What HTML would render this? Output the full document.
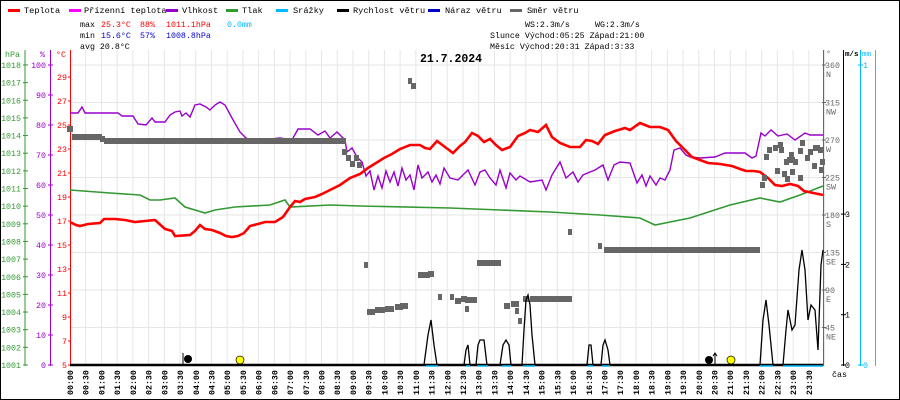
<!DOCTYPE html>
<html><head><meta charset="utf-8"><style>
html,body{margin:0;padding:0;background:#fff}
svg{display:block}
text{font-family:"Liberation Mono",monospace;font-size:8.3px}
</style></head><body>
<svg id="s" width="900" height="400" xmlns="http://www.w3.org/2000/svg">
<rect x="0.5" y="0.5" width="899" height="399" fill="#fff" stroke="#000"/>
</svg>
<script>
const s=document.getElementById('s');let h='';
const X0=70,DX=15.72;
for(let i=1;i<=48;i++){const x=X0+i*DX;h+=`<line x1="${x}" y1="50" x2="${x}" y2="365" stroke="#e6e6e6"/>`;}
for(let k=1;k<=8;k++){const y=365-37.5*k;h+=`<line x1="70" y1="${y}" x2="823" y2="${y}" stroke="#e6e6e6"/>`;}
function t(x,y,str,c,a,fs,w){h+=`<text x="${x}" y="${y}" fill="${c||'#000'}" ${a?'text-anchor="'+a+'"':''} ${fs?'style="font-size:'+fs+'px"':''} ${w?'font-weight="bold"':''}>${str}</text>`;}
const L=[["Teplota","#f00",8,24],["Přízenní teplota","#f0f",69,84],["Vlhkost","#90c",166,182],["Tlak","#393",226,242],["Srážky","#0bf",276,293],["Rychlost větru","#000",337,353],["Náraz větru","#00c",428,445],["Směr větru","#666",510,527]];
L.forEach(l=>{h+=`<rect x="${l[2]}" y="9" width="12" height="3" fill="${l[1]}"/>`;t(l[3],13,l[0],"#000",null,8.6);});
t(80,27,"max");t(101,27,"25.3°C","#f00");t(140,27,"88%","#f00");t(166,27,"1011.1hPa","#f00");t(227,27,"0.0mm","#0bf");
t(80,38,"min");t(101,38,"15.6°C","#00c");t(140,38,"57%","#00c");t(166,38,"1008.8hPa","#00c");
t(80,49,"avg 20.8°C");
t(525,27,"WS:2.3m/s");t(595,27,"WG:2.3m/s");
t(490,38,"Slunce Východ:05:25  Západ:21:00");
t(490,49,"Měsíc  Východ:20:31  Západ:3:33");
t(451,62,"21.7.2024","#000","middle",11.5,1);
h+=`<line x1="25" y1="50" x2="25" y2="366" stroke="#393"/><line x1="50.5" y1="50" x2="50.5" y2="366" stroke="#90c"/><line x1="70.5" y1="50" x2="70.5" y2="366" stroke="#f00"/>`;
t(5,57,"hPa","#393");t(40,57,"%","#90c");t(56,57,"°C","#f00");
for(let p=1001;p<=1018;p++){const y=365-(p-1001)*17.65;h+=`<line x1="23" y1="${y}" x2="28" y2="${y}" stroke="#393"/>`;t(21,y+3,p,"#393","end");}
for(let p=0;p<=100;p+=10){const y=365-p*3;h+=`<line x1="48" y1="${y}" x2="53" y2="${y}" stroke="#90c"/>`;t(46,y+3,p,"#90c","end");}
for(let c=5;c<=29;c+=2){const y=365-(c-5)*12;h+=`<line x1="68" y1="${y}" x2="71" y2="${y}" stroke="#f00"/>`;t(67,y+3,c,"#f00","end");}
h+=`<line x1="823.5" y1="50" x2="823.5" y2="366" stroke="#666"/><line x1="843.5" y1="50" x2="843.5" y2="366" stroke="#000"/><line x1="860.5" y1="50" x2="860.5" y2="366" stroke="#0bf"/><line x1="875.5" y1="50" x2="875.5" y2="366" stroke="#e80"/>`;
t(826,56,"°","#666");t(845,56,"m/s","#000",null,7.5,1);t(862,56,"mm","#0bf",null,7.5);
const dn=["","NE","E","SE","S","SW","W","NW","N"];
for(let k=1;k<=8;k++){const y=365-37.5*k;h+=`<line x1="822" y1="${y}" x2="826" y2="${y}" stroke="#666"/>`;t(825,y+3,k*45,"#666");t(826,y+12,dn[k],"#666");}
for(let w=0;w<=3;w++){const y=365-w*50.3;h+=`<line x1="841" y1="${y}" x2="846" y2="${y}" stroke="#000"/>`;t(845,y+3,w);}
[[365,0],[65,1]].forEach(a=>{h+=`<line x1="858" y1="${a[0]}" x2="863" y2="${a[0]}" stroke="#0bf"/>`;t(863,a[0]+3,a[1],"#0bf");});
t(832,377,"čas");
for(let i=0;i<48;i++){const x=X0+i*DX+3;const hh=String(Math.floor(i/2)).padStart(2,'0')+":"+(i%2?"30":"00");h+=`<text transform="translate(${x},395) rotate(-90)" font-weight="bold">${hh}</text>`;}
function pl(pts,c,w){h+=`<polyline fill="none" stroke="${c}" stroke-width="${w}" points="${pts.map(p=>p.join(',')).join(' ')}"/>`;}
pl([[70,190],[110,193],[140,195],[150,200],[160,200],[175,198],[185,207],[205,213],[215,210],[235,207],[270,205],[285,200],[290,207],[330,205],[360,206],[450,208],[500,210],[550,212],[600,215],[640,218],[655,225],[690,218],[730,205],[760,198],[780,202],[800,195],[823,186]],"#393",1.6);
pl([[70,113],[78,113],[82,107],[85,113],[118,113],[122,116],[133,116],[138,124],[146,125],[152,118],[155,122],[165,122],[170,115],[175,112],[180,111],[182,116],[186,113],[190,117],[195,105],[200,104],[206,107],[210,110],[215,105],[220,102],[225,105],[232,118],[240,132],[246,138],[256,143],[264,143],[270,139],[280,138],[292,140],[298,129],[310,129],[318,135],[325,131],[330,138],[337,132],[345,140],[347,152],[352,148],[357,157],[362,162],[366,176],[370,171],[374,190],[378,176],[382,188],[386,171],[390,182],[394,172],[398,186],[402,168],[406,180],[410,175],[414,190],[418,165],[422,178],[428,172],[432,182],[436,175],[440,184],[444,168],[450,178],[458,180],[468,170],[475,185],[480,172],[485,170],[490,178],[496,185],[500,170],[506,188],[510,173],[516,180],[520,176],[530,182],[542,180],[546,190],[552,175],[560,162],[566,178],[573,172],[578,182],[583,175],[590,172],[595,170],[603,165],[608,180],[614,165],[620,162],[630,163],[637,183],[642,175],[646,186],[650,176],[656,185],[660,178],[665,180],[670,170],[674,150],[680,148],[686,155],[690,157],[700,158],[715,157],[725,153],[745,153],[752,158],[756,156],[761,133],[765,136],[771,130],[778,136],[787,134],[795,140],[805,133],[810,135],[823,135]],"#90c",1.4);
pl([[70,222],[76,225],[80,226],[88,224],[100,223],[104,219],[115,219],[125,220],[135,222],[145,221],[155,220],[165,229],[172,231],[175,236],[190,235],[195,231],[200,225],[205,229],[212,230],[220,233],[226,236],[232,237],[238,236],[244,233],[250,226],[258,224],[265,222],[275,222],[283,217],[290,207],[295,201],[300,202],[305,199],[315,197],[322,194],[330,190],[340,185],[350,178],[360,174],[368,168],[376,163],[384,158],[392,154],[400,149],[410,145],[420,145],[425,148],[430,149],[437,141],[445,147],[453,153],[460,146],[465,142],[472,133],[478,136],[484,142],[490,139],[496,145],[502,150],[510,147],[518,136],[525,133],[530,130],[538,132],[546,125],[552,137],[560,143],[570,147],[580,147],[586,140],[592,141],[598,144],[605,135],[615,131],[625,128],[630,130],[640,123],[650,127],[660,127],[668,130],[676,141],[684,149],[692,157],[700,160],[708,163],[720,164],[732,166],[740,169],[746,171],[754,171],[760,172],[768,178],[775,185],[782,186],[790,184],[798,186],[804,191],[823,195]],"#f00",2.6);
function sq(x,y,w){h+=`<rect x="${x}" y="${y-3}" width="${w||6}" height="6" fill="#666"/>`;}
sq(67,129,6);
h+=`<rect x="72" y="134" width="30" height="6" fill="#666"/><rect x="100" y="136" width="5" height="6" fill="#666"/><rect x="104" y="138" width="242" height="6" fill="#666"/>`;
[[342,152],[346,158],[350,164],[354,158],[357,165]].forEach(p=>sq(p[0],p[1],5));
sq(364,265,4);sq(367,312,8);sq(375,310,10);sq(385,309,9);sq(395,307,8);sq(400,306,8);
sq(408,81,4);sq(411,86,5);sq(418,275,12);sq(428,274,6);sq(438,297,4);sq(450,297,4);sq(455,301,6);sq(461,299,6);sq(465,309,4);
sq(477,263,8);sq(483,263,10);sq(493,263,8);sq(465,300,12);sq(511,304,8);sq(515,311,4);sq(518,321,4);sq(504,306,6);sq(523,299,6);sq(530,299,42);sq(568,232,4);sq(598,246,4);
h+=`<rect x="604" y="247" width="156" height="6" fill="#666"/>`;
[[760,185],[764,157],[767,150],[779,150],[773,148],[778,145],[784,162],[787,160],[790,160],[793,162],[798,151],[800,143],[805,158],[808,152],[813,148],[818,150],[820,162],[819,170],[789,155],[782,174],[790,172],[798,178],[812,166],[815,148],[785,179],[762,178],[775,171]].forEach(p=>sq(p[0],p[1],5));
const ws=[[70,365],[424,365],[428,335],[431,320],[434,345],[437,365],[464,365],[466,350],[468,345],[470,365],[476,365],[478,345],[480,340],[484,340],[487,365],[500,365],[503,345],[506,340],[509,345],[511,365],[522,365],[524,330],[526,300],[528,295],[530,305],[532,335],[535,365],[587,365],[589,345],[591,345],[593,365],[601,365],[603,345],[605,340],[608,350],[610,365],[760,365],[763,320],[766,300],[769,325],[773,365],[783,365],[786,330],[788,310],[792,330],[795,325],[799,270],[802,250],[805,270],[808,320],[811,305],[815,310],[818,350],[821,265],[823,250]];
pl(ws,"#000",1.3);
h+=`<line x1="70" y1="365" x2="823" y2="365" stroke="#000" stroke-width="2.5"/>`;
[[426,438],[466,470],[477,488],[502,511],[523,535],[588,593],[602,610],[760,773],[783,823]].forEach(r=>{h+=`<line x1="${r[0]}" y1="366" x2="${r[1]}" y2="366" stroke="#0bf" stroke-width="1.5"/>`;});
h+=`<circle cx="188" cy="359" r="4" fill="#000"/><line x1="183" y1="353" x2="183" y2="364" stroke="#000"/>`;
h+=`<circle cx="240" cy="360" r="4" fill="#ff0" stroke="#000" stroke-width=".7"/>`;
h+=`<circle cx="709" cy="360" r="4" fill="#000"/><line x1="715" y1="353" x2="715" y2="364" stroke="#000"/><path d="M713 356 L715 353 L717 356" fill="none" stroke="#000"/>`;
h+=`<circle cx="731" cy="360" r="4" fill="#ff0" stroke="#000" stroke-width=".7"/>`;
s.insertAdjacentHTML('beforeend',h);
</script>
</body></html>
